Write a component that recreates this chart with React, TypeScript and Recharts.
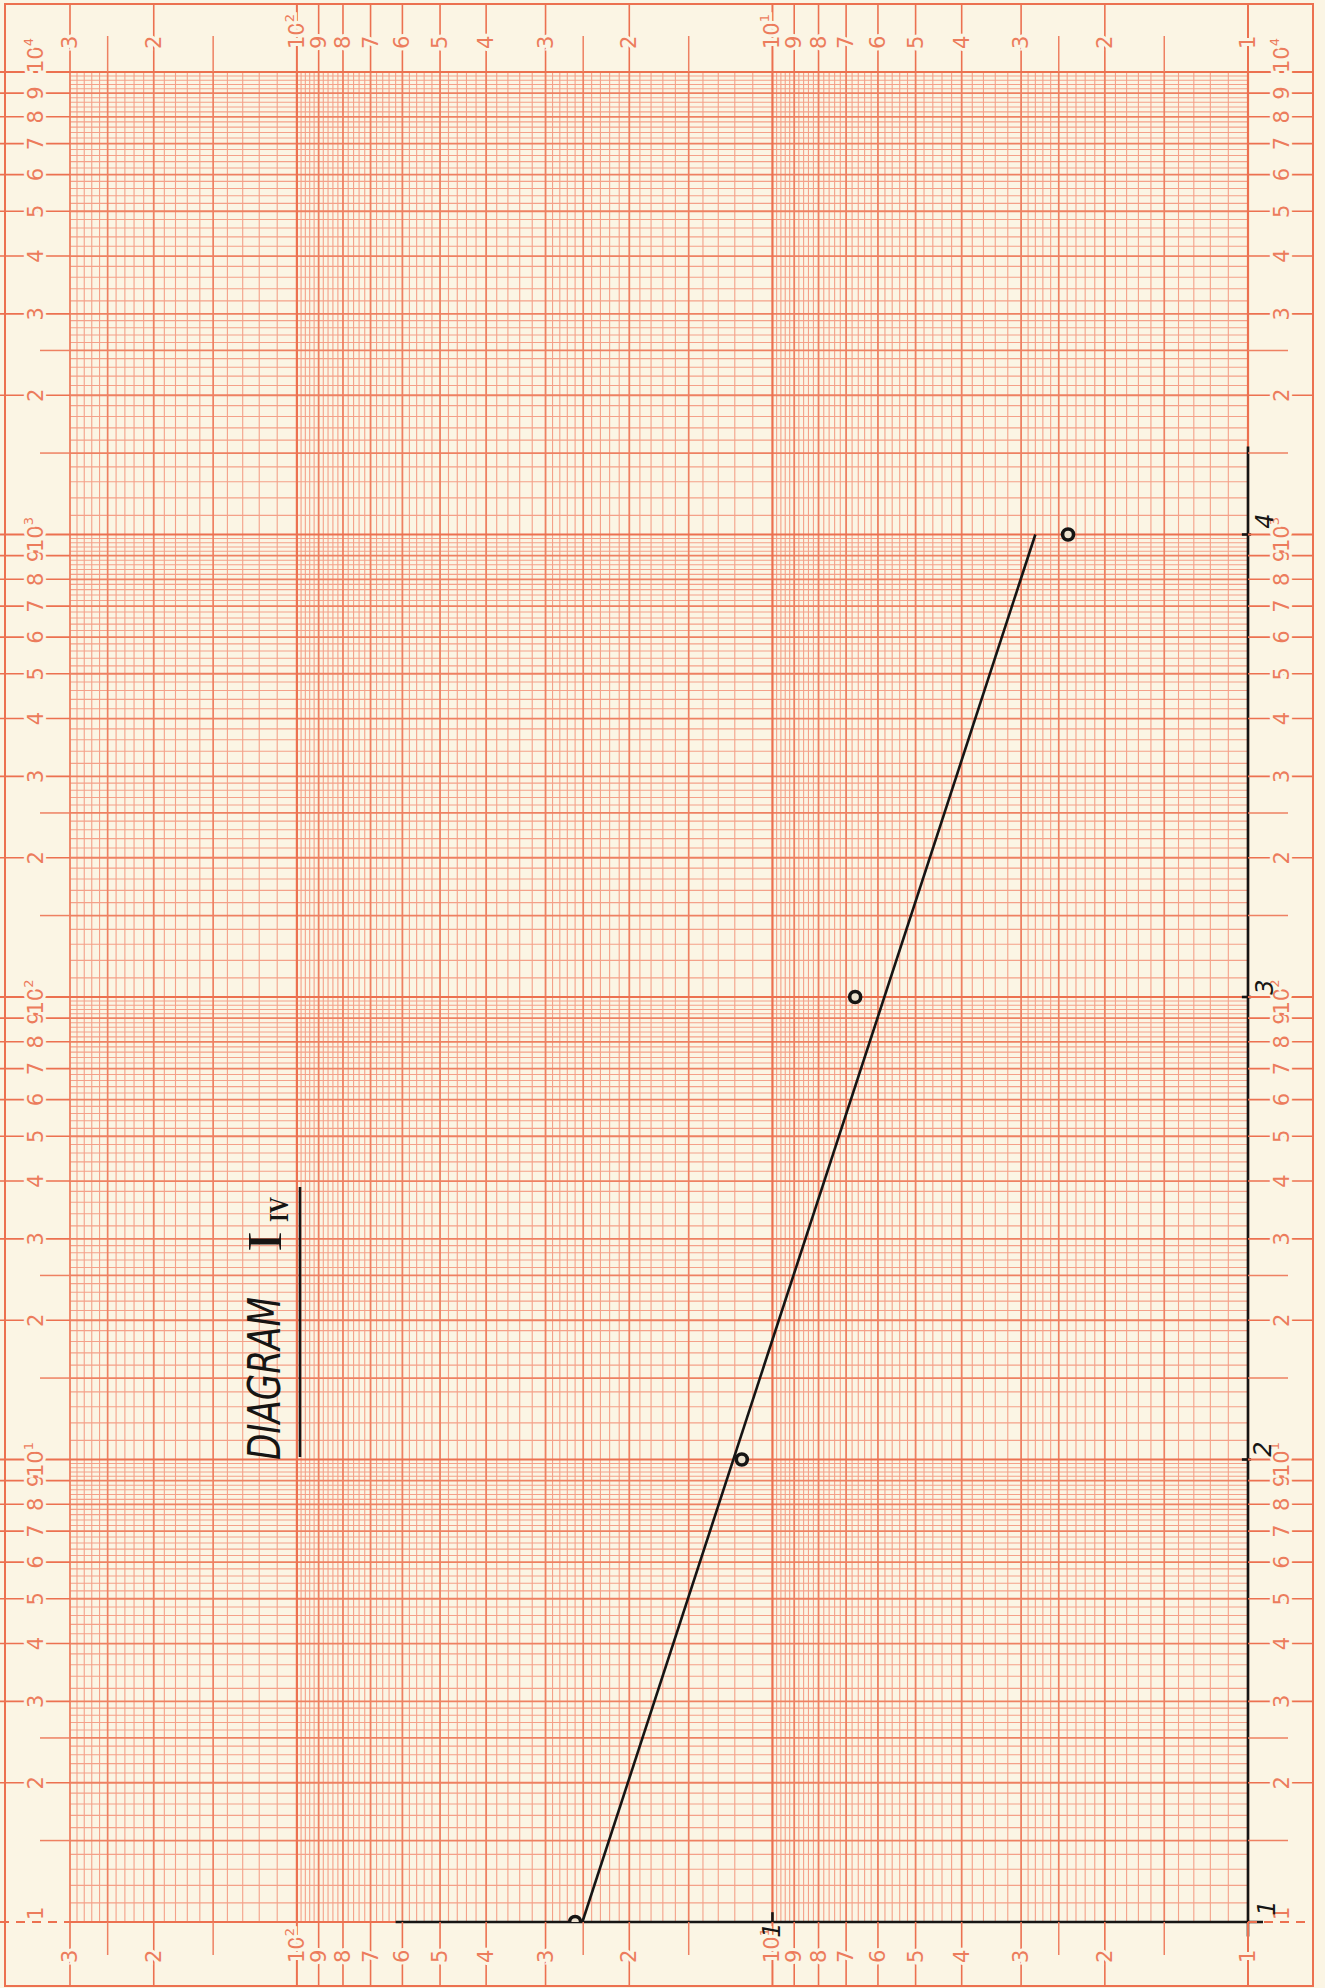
import React from 'react'
import {
  CartesianGrid,
  ComposedChart,
  Line,
  ReferenceLine,
  Scatter,
  XAxis,
  YAxis,
} from 'recharts'

// measured points: h = horizontal scale (1..300, rising to the left), v = vertical scale (1..10^4)
const pointsH = [26, 11.6, 6.7, 2.39]
const pointsV = [1, 10, 100, 1000]

// hand-drawn straight line through the points
const fitH = [25.1, 2.8]
const fitV = [1, 1000]

// black hand-drawn axes
const axisBottomH = [62, 0.93]
const axisRightV = [1550, 0.93]
const axisRightTicks = [10, 100, 1000]
const axisBottomTicks = [10]

// paper rulings (mantissas within one decade)
const fineMantissa = [
  1.1, 1.2, 1.3, 1.4, 1.6, 1.7, 1.8, 1.9, 2.1, 2.2, 2.3, 2.4, 2.6, 2.7, 2.8,
  2.9, 3.2, 3.4, 3.6, 3.8, 4.2, 4.4, 4.6, 4.8, 5.2, 5.4, 5.6, 5.8, 6.2, 6.4,
  6.6, 6.8, 7.2, 7.4, 7.6, 7.8, 8.2, 8.4, 8.6, 8.8, 9.2, 9.4, 9.6, 9.8,
]
const halfMantissa = [1.5, 2.5]
const intMantissa = [2, 3, 4, 5, 6, 7, 8, 9]
const labelMantissa = [1, 1.5, 2, 2.5, 3, 4, 5, 6, 7, 8, 9]
const decadesV = [1, 10, 100, 1000]
const decadesH = [1, 10, 100]
const H_MAX = 300
const V_MAX = 10000

const W = 1325
const H = 1988
const PLOT_TOP = 72
const PLOT_BOTTOM = 1922
const PLOT_LEFT = 70
const PLOT_RIGHT = 1248
const BORDER = { left: 5, top: 4, right: 1313, bottom: 1986 }

const PAPER = '#fbf5e4'
const TEXT_ORANGE = '#ec7c5c'
const GRID_BOLD = '#ec7150'
const GRID_MID = '#ee8162'
const GRID_THIN = '#f4a189'
const INK = '#161514'

const spread = (mant: number[], decades: number[], max: number) =>
  decades
    .flatMap((d) => mant.map((m) => Number((m * d).toPrecision(6))))
    .filter((x) => x <= max)

const vFine = spread(fineMantissa, decadesV, V_MAX)
const hFine = spread(fineMantissa, decadesH, H_MAX)
const vHalf = spread(halfMantissa, decadesV, V_MAX)
const hHalf = spread(halfMantissa, decadesH, H_MAX)
const vInt = spread(intMantissa, decadesV, V_MAX)
const hInt = spread(intMantissa, decadesH, H_MAX)
const vDec = [...decadesV, V_MAX]
const hDec = [...decadesH]

const vTicks = [...spread(labelMantissa, decadesV, V_MAX), V_MAX]
const hTicks = spread(labelMantissa, decadesH, H_MAX)

const points = pointsH.map((h, i) => ({ h, v: pointsV[i] }))
const fitLine = fitH.map((h, i) => ({ h, v: fitV[i] }))

const sup: Record<number, string> = { 10: '1', 100: '2', 1000: '3', 10000: '4' }

const mantissaOf = (v: number) => {
  const d = Math.pow(10, Math.floor(Math.log10(v) + 1e-9))
  return Number((v / d).toPrecision(4))
}
const isHalf = (v: number) => {
  const m = mantissaOf(v)
  return m === 1.5 || m === 2.5
}

const tickText = (v: number) => {
  if (sup[v]) {
    return (
      <>
        10
        <tspan fontSize={13} dy={-8}>
          {sup[v]}
        </tspan>
      </>
    )
  }
  return String(Math.round(mantissaOf(v)))
}

const labelStyle = {
  fontFamily: 'DejaVu Sans, Liberation Sans, sans-serif',
  fontSize: 21,
  fill: TEXT_ORANGE,
  stroke: PAPER,
  strokeWidth: 6,
  paintOrder: 'stroke' as const,
}

// horizontal scale ticks: drawn in top and bottom margin
const HTick = (props: any) => {
  const { x, payload } = props
  const v = payload.value
  if (isHalf(v)) {
    return (
      <g>
        <line x1={x} x2={x} y1={36} y2={PLOT_TOP} stroke={GRID_MID} strokeWidth={1.5} />
        <line x1={x} x2={x} y1={PLOT_BOTTOM} y2={1955} stroke={GRID_MID} strokeWidth={1.5} />
      </g>
    )
  }
  const sw = sup[v] || v === 1 ? 2 : 1.6
  return (
    <g>
      <line x1={x} x2={x} y1={BORDER.top} y2={PLOT_TOP} stroke={GRID_BOLD} strokeWidth={sw} />
      <line x1={x} x2={x} y1={PLOT_BOTTOM} y2={BORDER.bottom} stroke={GRID_BOLD} strokeWidth={sw} />
      <text
        transform={`translate(${x},49) rotate(-90)`}
        textAnchor="start"
        dominantBaseline="central"
        {...labelStyle}
      >
        {tickText(v)}
      </text>
      <text
        transform={`translate(${x},1963) rotate(-90)`}
        textAnchor="start"
        dominantBaseline="central"
        {...labelStyle}
      >
        {tickText(v)}
      </text>
    </g>
  )
}

// vertical scale ticks: drawn in left and right margin
const VTick = (props: any) => {
  const { y, payload } = props
  const v = payload.value
  if (isHalf(v)) {
    return (
      <g>
        <line x1={40} x2={PLOT_LEFT} y1={y} y2={y} stroke={GRID_MID} strokeWidth={1.5} />
        <line x1={PLOT_RIGHT} x2={1288} y1={y} y2={y} stroke={GRID_MID} strokeWidth={1.5} />
      </g>
    )
  }
  const sw = sup[v] || v === 1 ? 2 : 1.6
  const dash = v === 1 ? '9 7' : undefined
  let anchor: 'middle' | 'start' = 'middle'
  let ty = y
  if (v === V_MAX) {
    anchor = 'start'
    ty = y + 1
  } else if (v === 1) {
    anchor = 'start'
    ty = y - 2
  }
  return (
    <g>
      <line x1={0} x2={PLOT_LEFT} y1={y} y2={y} stroke={GRID_BOLD} strokeWidth={sw} strokeDasharray={dash} />
      <line x1={PLOT_RIGHT} x2={BORDER.right} y1={y} y2={y} stroke={GRID_BOLD} strokeWidth={sw} strokeDasharray={dash} />
      <text
        transform={`translate(36,${ty}) rotate(-90)`}
        textAnchor={anchor}
        dominantBaseline="central"
        {...labelStyle}
      >
        {tickText(v)}
      </text>
      <text
        transform={`translate(1282,${ty}) rotate(-90)`}
        textAnchor={anchor}
        dominantBaseline="central"
        {...labelStyle}
      >
        {tickText(v)}
      </text>
    </g>
  )
}

const Ring = (p: any) => (
  <circle cx={p.cx} cy={p.cy} r={5.5} fill="#ece2cf" stroke={INK} strokeWidth={3.6} />
)

const handStyle = {
  fontFamily: 'DejaVu Sans, sans-serif',
  fontStyle: 'italic' as const,
  fontSize: 24,
  fill: INK,
}

export default function App() {
  return (
    <div style={{ position: 'relative', width: W, height: H, background: PAPER }}>
      <style>{'body{margin:0;background:' + PAPER + '}'}</style>
      <ComposedChart
        width={W}
        height={H}
        margin={{ top: PLOT_TOP, right: W - PLOT_RIGHT, bottom: 0, left: 0 }}
      >
        <CartesianGrid
          horizontalValues={vFine}
          verticalValues={hFine}
          stroke={GRID_THIN}
          strokeWidth={1.1}
          fill="none"
        />
        <CartesianGrid
          horizontalValues={vHalf}
          verticalValues={hHalf}
          stroke={GRID_MID}
          strokeWidth={1.7}
          fill="none"
        />
        <CartesianGrid
          horizontalValues={vInt}
          verticalValues={hInt}
          stroke={GRID_MID}
          strokeWidth={1.8}
          fill="none"
        />
        <CartesianGrid
          horizontalValues={vDec}
          verticalValues={hDec}
          stroke={GRID_BOLD}
          strokeWidth={2.2}
          fill="none"
        />
        <XAxis
          dataKey="h"
          type="number"
          scale="log"
          domain={[1, H_MAX]}
          allowDataOverflow
          reversed
          ticks={hTicks}
          interval={0}
          height={H - PLOT_BOTTOM}
          axisLine={false}
          tickLine={false}
          tick={<HTick />}
        />
        <YAxis
          dataKey="v"
          type="number"
          scale="log"
          domain={[1, V_MAX]}
          allowDataOverflow
          ticks={vTicks}
          interval={0}
          width={PLOT_LEFT}
          axisLine={false}
          tickLine={false}
          tick={<VTick />}
        />
        <ReferenceLine
          segment={[
            { x: axisBottomH[0], y: 1 },
            { x: axisBottomH[1], y: 1 },
          ]}
          stroke={INK}
          strokeWidth={2.6}
          ifOverflow="visible"
        />
        <ReferenceLine
          segment={[
            { x: 1, y: axisRightV[0] },
            { x: 1, y: axisRightV[1] },
          ]}
          stroke={INK}
          strokeWidth={2.6}
          ifOverflow="visible"
        />
        {axisRightTicks.map((t) => (
          <ReferenceLine
            key={`rt-${t}`}
            segment={[
              { x: 1.03, y: t },
              { x: 0.985, y: t },
            ]}
            stroke={INK}
            strokeWidth={2.6}
            ifOverflow="visible"
          />
        ))}
        {axisBottomTicks.map((t) => (
          <ReferenceLine
            key={`bt-${t}`}
            segment={[
              { x: t, y: 1 },
              { x: t, y: 1.05 },
            ]}
            stroke={INK}
            strokeWidth={2.6}
            ifOverflow="visible"
          />
        ))}
        <Line
          data={fitLine}
          dataKey="v"
          type="linear"
          stroke={INK}
          strokeWidth={2.6}
          dot={false}
          isAnimationActive={false}
        />
        <Scatter data={points} dataKey="v" shape={Ring} isAnimationActive={false} />
      </ComposedChart>

      <svg
        width={W}
        height={H}
        style={{ position: 'absolute', left: 0, top: 0, pointerEvents: 'none' }}
      >
        <rect
          x={BORDER.left}
          y={BORDER.top}
          width={BORDER.right - BORDER.left}
          height={BORDER.bottom - BORDER.top}
          fill="none"
          stroke={GRID_BOLD}
          strokeWidth={2}
        />
        {/* title */}
        <text
          transform="translate(280,1460) rotate(-90)"
          fontFamily="DejaVu Sans, sans-serif"
          fontStyle="italic"
          fontSize={44}
          textLength={163}
          lengthAdjust="spacingAndGlyphs"
          fill={INK}
        >
          DIAGRAM
        </text>
        <text
          transform="translate(281,1252) rotate(-90)"
          fontFamily="Liberation Serif, serif"
          fontSize={48}
          textLength={21}
          lengthAdjust="spacingAndGlyphs"
          fill={INK}
        >
          I
        </text>
        <text
          transform="translate(288,1222) rotate(-90)"
          fontFamily="Liberation Serif, serif"
          fontWeight="bold"
          fontSize={28}
          textLength={25}
          lengthAdjust="spacingAndGlyphs"
          fill={INK}
        >
          IV
        </text>
        <line x1={300} x2={300} y1={1187} y2={1457} stroke={INK} strokeWidth={2.6} />
        {/* hand-written axis numbers */}
        <text transform="translate(772,1930) rotate(-90)" textAnchor="middle" dominantBaseline="central" {...handStyle}>
          1
        </text>
        <text transform="translate(1267,1908) rotate(-90)" textAnchor="middle" dominantBaseline="central" {...handStyle}>
          1
        </text>
        <text transform="translate(1263,1449) rotate(-90)" textAnchor="middle" dominantBaseline="central" {...handStyle}>
          2
        </text>
        <text transform="translate(1265,987) rotate(-90)" textAnchor="middle" dominantBaseline="central" {...handStyle}>
          3
        </text>
        <text transform="translate(1265,521) rotate(-90)" textAnchor="middle" dominantBaseline="central" {...handStyle}>
          4
        </text>
      </svg>
    </div>
  )
}
